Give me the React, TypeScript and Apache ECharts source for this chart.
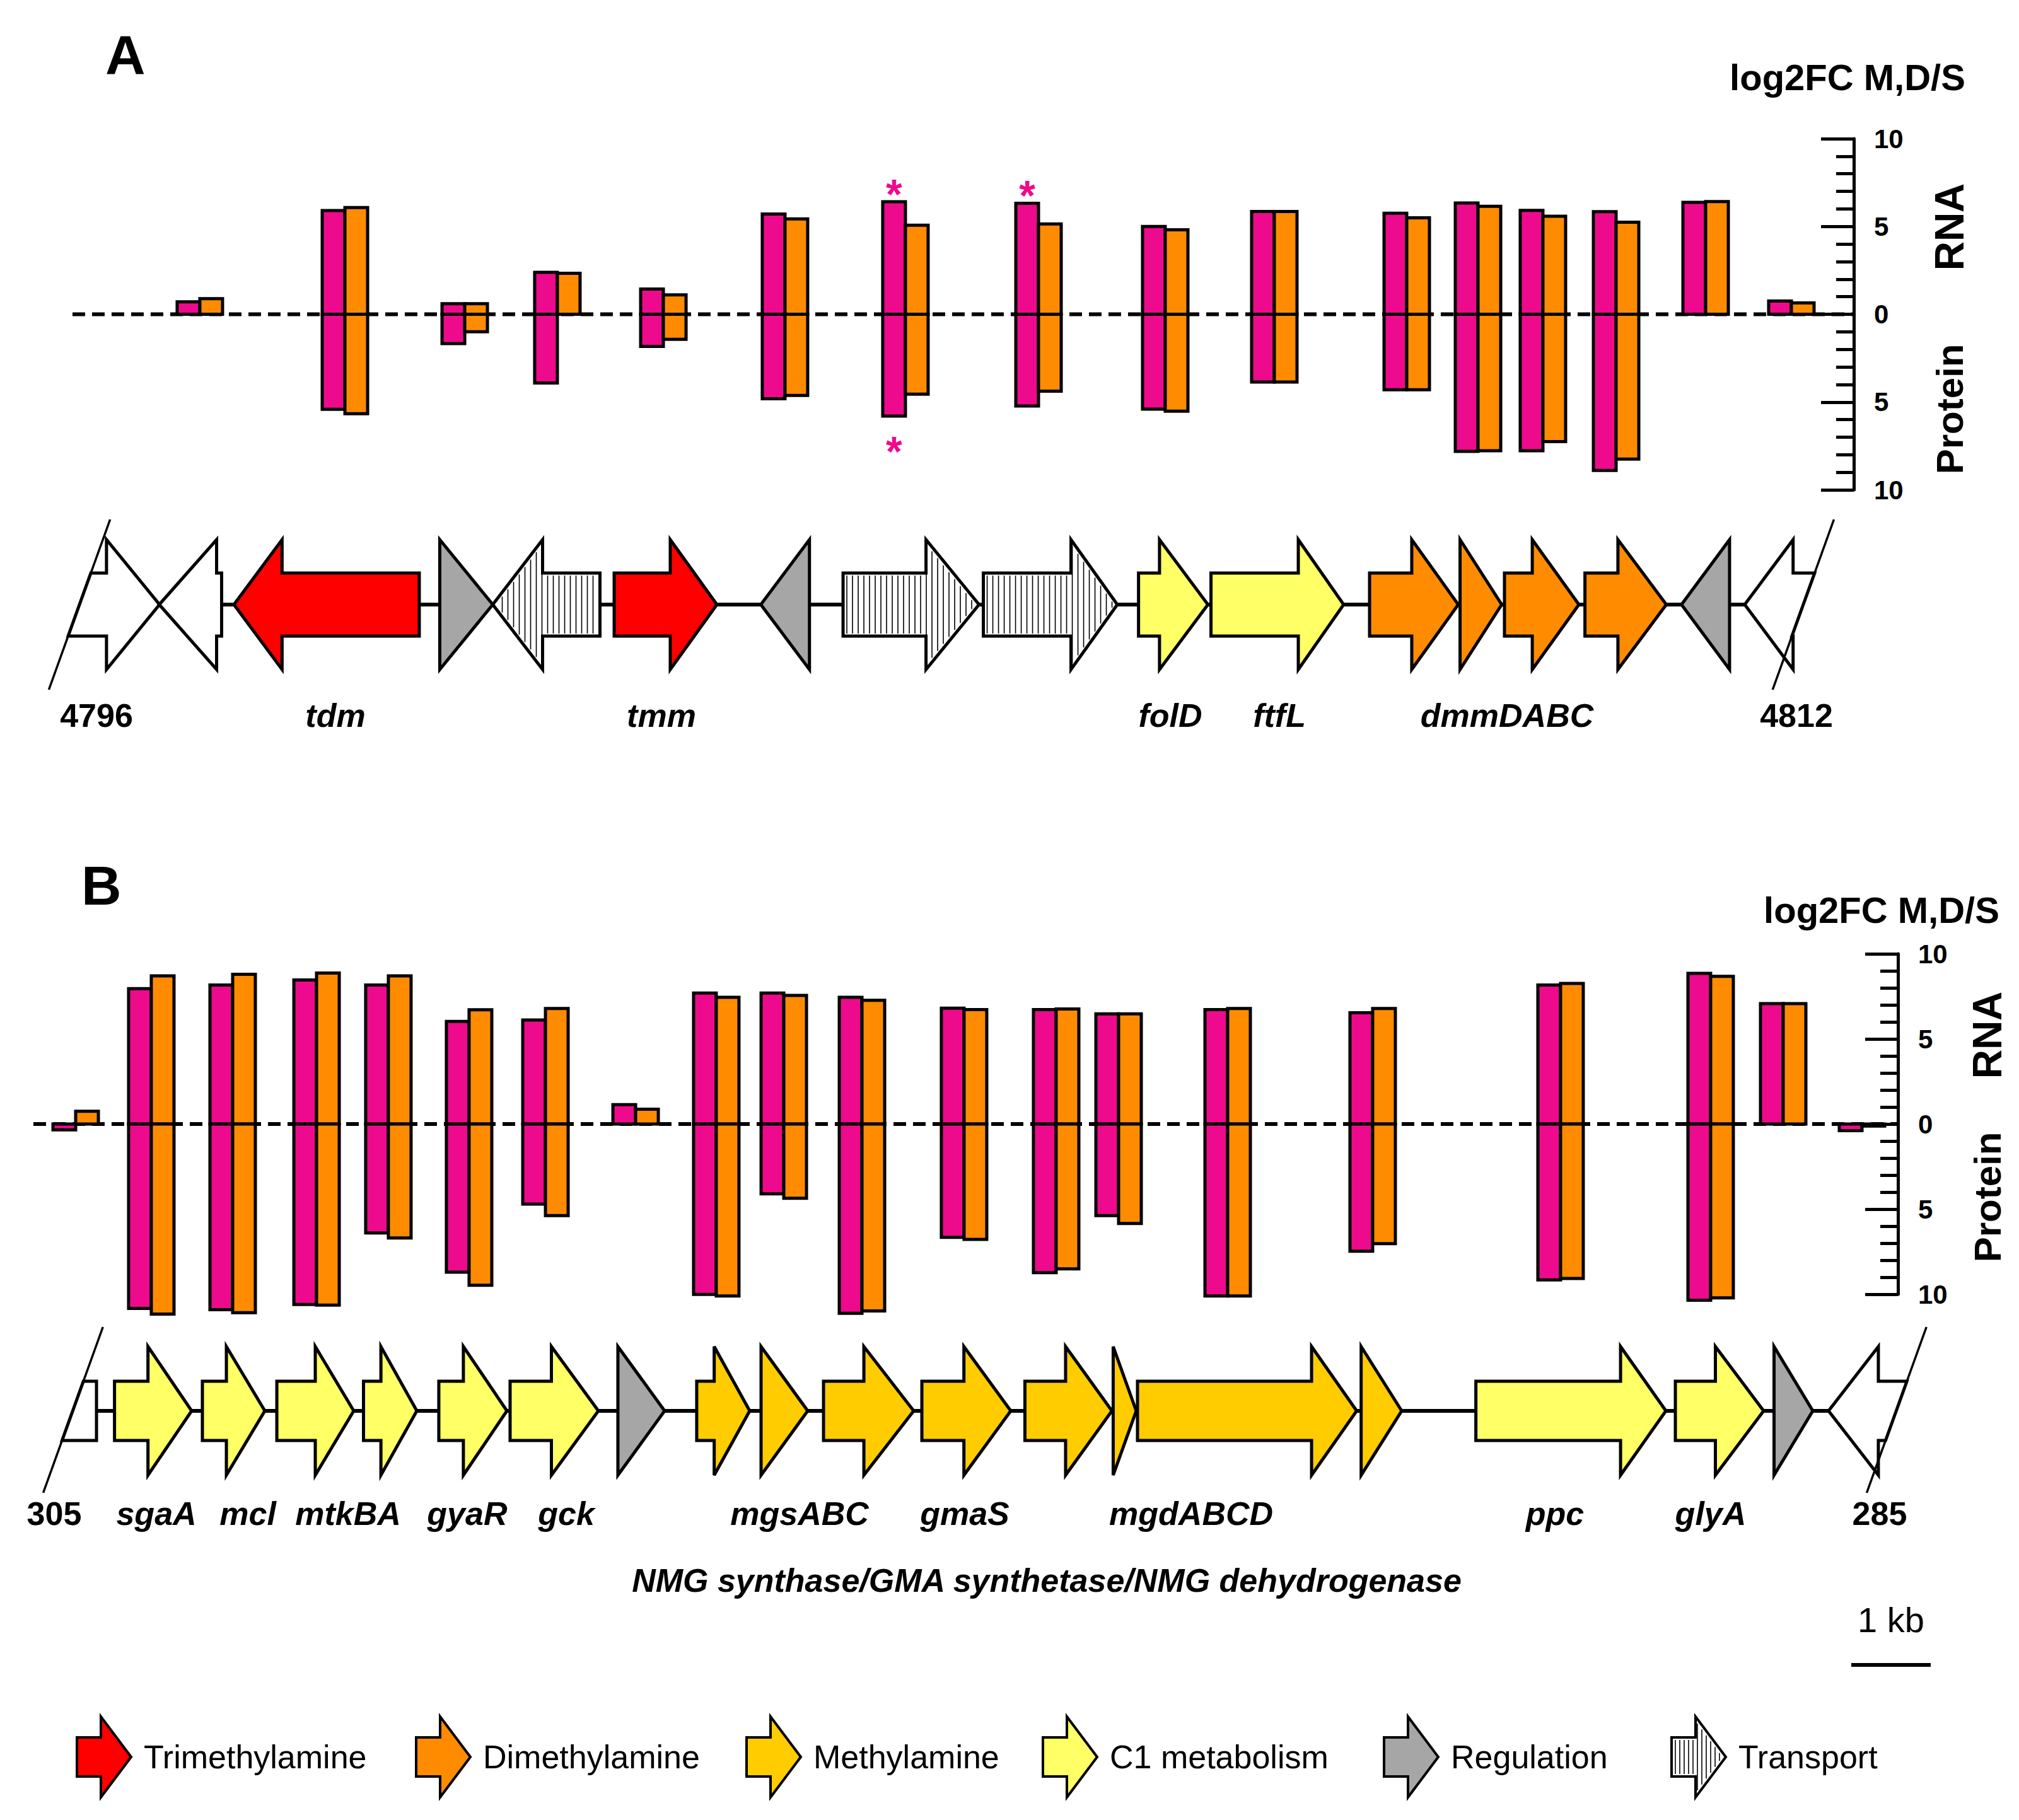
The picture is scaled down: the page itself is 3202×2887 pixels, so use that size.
import React, { useEffect, useRef } from "react";
import * as echarts from "echarts";

const FONT = "'Liberation Sans', Arial, Helvetica, sans-serif";
const PAGE_W = 3202;
const PAGE_H = 2887;
const KB_PX = 126; // 1 kb on the page
const GRID_LEFT = 40;

const MAGENTA = "#EE0A8C";
const ORANGE = "#FF8C00";

// categories
const OTHER = 0, TMA = 1, DMA = 2, MA = 3, C1 = 4, REG = 5, TRN = 6;
const CAT_COLOR = ["#ffffff", "#ff0000", "#ff8c00", "#ffcc00", "#ffff66", "#a6a6a6", "#ffffff"];

// ---------------- Panel A : bars (log2FC, M,D/S) ----------------
const barPosA = [2.198, 4.024, 5.532, 6.698, 8.032, 9.563, 11.079, 12.754, 14.349, 15.722, 17.389, 18.286, 19.103, 20.024, 21.151, 22.23];
const rnaMA = [0.71, 5.91, 0.6, 2.39, 1.44, 5.71, 6.41, 6.32, 5.0, 5.85, 5.75, 6.34, 5.92, 5.84, 6.37, 0.75];
const rnaOA = [0.89, 6.08, 0.6, 2.33, 1.1, 5.43, 5.07, 5.14, 4.81, 5.85, 5.49, 6.15, 5.58, 5.24, 6.42, 0.65];
const protMA = [0, 5.41, 1.67, 3.91, 1.83, 4.81, 5.8, 5.22, 5.4, 3.86, 4.3, 7.81, 7.77, 8.9, 0, 0];
const protOA = [0, 5.66, 1.0, 0, 1.43, 4.62, 4.55, 4.38, 5.52, 3.86, 4.3, 7.77, 7.25, 8.25, 0, 0];
// significance asterisks: [group index, +1 RNA / -1 protein]
const starsA = [[6, 1], [6, -1], [7, 1]];
const zeroStartA = 0.595;

// ---------------- Panel B : bars ----------------
const barPosB = [0.635, 1.587, 2.611, 3.667, 4.571, 5.587, 6.548, 7.683, 8.698, 9.548, 10.532, 11.817, 12.976, 13.762, 15.135, 16.96, 19.325, 21.214, 22.127, 23.119];
const rnaMB = [-0.34, 7.95, 8.17, 8.46, 8.17, 6.03, 6.11, 1.14, 7.69, 7.69, 7.44, 6.81, 6.72, 6.47, 6.72, 6.54, 8.17, 8.85, 7.07, -0.39];
const rnaOB = [0.75, 8.7, 8.8, 8.87, 8.7, 6.71, 6.79, 0.87, 7.44, 7.56, 7.27, 6.72, 6.76, 6.47, 6.79, 6.79, 8.26, 8.68, 7.07, -0.12];
const protMB = [0, 10.83, 10.91, 10.6, 6.4, 8.7, 4.7, 0, 10.01, 4.1, 11.12, 6.66, 8.73, 5.38, 10.1, 7.47, 9.16, 10.35, 0, 0];
const protOB = [0, 11.17, 11.08, 10.64, 6.69, 9.47, 5.38, 0, 10.1, 4.36, 10.98, 6.78, 8.51, 5.84, 10.1, 7.03, 9.07, 10.21, 0, 0];
const starsB: number[][] = [];
const zeroStartB = 0.103;

// ---------------- Gene maps (kb): [left, right, strand, head length, category] ----------------
const genesA = [
  [0.683, 1.69, 1, 0.667, OTHER],
  [1.687, 2.472, -1, 0.722, OTHER],
  [2.627, 4.96, -1, 0.606, TMA],
  [5.218, 5.885, 1, 0.667, REG],
  [5.885, 7.234, -1, 0.627, TRN],
  [7.413, 8.706, 1, 0.587, TMA],
  [9.259, 9.871, -1, 0.612, REG],
  [10.294, 12.005, 1, 0.667, TRN],
  [12.06, 13.746, 1, 0.583, TRN],
  [14.013, 14.886, 1, 0.609, C1],
  [14.925, 16.595, 1, 0.571, C1],
  [16.921, 18.037, 1, 0.585, DMA],
  [18.06, 18.584, 1, 0.524, DMA],
  [18.619, 19.556, 1, 0.587, DMA],
  [19.632, 20.656, 1, 0.609, DMA],
  [20.847, 21.452, -1, 0.605, REG],
  [21.643, 22.38, -1, 0.609, OTHER],
];
const breaksA = [0.683, 22.38];
const labelsA: [string, number][] = [["4796", 0.897], ["tdm", 3.905], ["tmm", 8.008], ["folD", 14.413], ["ftfL", 15.786], ["dmmDABC", 18.651], ["4812", 22.294]];

const genesB = [
  [0.598, 0.897, 1, 0, OTHER],
  [1.124, 2.095, 1, 0.55, C1],
  [2.23, 3.016, 1, 0.484, C1],
  [3.167, 4.135, 1, 0.484, C1],
  [4.258, 4.929, 1, 0.452, C1],
  [5.206, 6.063, 1, 0.548, C1],
  [6.103, 7.214, 1, 0.591, C1],
  [7.46, 8.048, 1, 0.588, REG],
  [8.452, 9.119, 1, 0.447, MA],
  [9.262, 9.849, 1, 0.587, MA],
  [10.048, 11.183, 1, 0.627, MA],
  [11.286, 12.405, 1, 0.59, MA],
  [12.583, 13.678, 1, 0.583, MA],
  [13.694, 13.984, 1, 0.29, MA],
  [14.0, 16.759, 1, 0.568, MA],
  [16.815, 17.325, 1, 0.51, MA],
  [18.259, 20.651, 1, 0.571, C1],
  [20.77, 21.881, 1, 0.607, C1],
  [22.012, 22.5, 1, 0.488, REG],
  [22.698, 23.55, -1, 0.627, OTHER],
];
const breaksB = [0.598, 23.55];
const labelsB: [string, number][] = [["305", 0.365], ["sgaA", 1.651], ["mcl", 2.802], ["mtkBA", 4.063], ["gyaR", 5.563], ["gck", 6.81], ["mgsABC", 9.746], ["gmaS", 11.825], ["mgdABCD", 14.675], ["ppc", 19.254], ["glyA", 21.214], ["285", 23.341]];
const scaleBarB = [22.984, 23.984];

const legendItems: [string, number][] = [["Trimethylamine", TMA], ["Dimethylamine", DMA], ["Methylamine", MA], ["C1 metabolism", C1], ["Regulation", REG], ["Transport", TRN]];
const LEGEND_X = [122, 660, 1184, 1654, 2195, 2651];

// ---------------- layout ----------------
const BAR_W = 36;
const SLOPE = -0.36;
const GRIDS = [
  { left: GRID_LEFT, top: 220, width: 2900, height: 557 },
  { left: GRID_LEFT, top: 809, width: 3150, height: 300 },
  { left: GRID_LEFT, top: 1513, width: 2970, height: 540 },
  { left: GRID_LEFT, top: 2088, width: 3150, height: 300 },
];

function arrowPoints(L: number, R: number, Hpx: number, strand: number, C: number, bh: number, hh: number, slashL: number | null, slashR: number | null) {
  const sx = (s: number, y: number) => s + (y - C) * SLOPE;
  const lt = slashL != null ? sx(slashL, C - bh) : L;
  const lb = slashL != null ? sx(slashL, C + bh) : L;
  const rt = slashR != null ? sx(slashR, C - bh) : R;
  const rb = slashR != null ? sx(slashR, C + bh) : R;
  if (Hpx <= 0) return [[lt, C - bh], [rt, C - bh], [rb, C + bh], [lb, C + bh]];
  const tri = Hpx >= R - L - 0.5;
  if (strand > 0) {
    if (tri) return [[L, C - hh], [R, C], [L, C + hh]];
    const HB = R - Hpx;
    return [[lt, C - bh], [HB, C - bh], [HB, C - hh], [R, C], [HB, C + hh], [HB, C + bh], [lb, C + bh]];
  }
  if (tri) return [[R, C - hh], [L, C], [R, C + hh]];
  const HB = L + Hpx;
  return [[rt, C - bh], [HB, C - bh], [HB, C - hh], [L, C], [HB, C + hh], [HB, C + bh], [rb, C + bh]];
}

function stripeLines(L: number, R: number, Hpx: number, strand: number, C: number, bh: number, hh: number, step: number) {
  const out: any[] = [];
  for (let x = L + 6; x < R - 6; x += step) {
    let h;
    if (strand > 0) {
      const HB = R - Hpx;
      h = x < HB ? bh - 4 : (hh * (R - x)) / Hpx - 7;
    } else {
      const HB = L + Hpx;
      h = x > HB ? bh - 4 : (hh * (x - L)) / Hpx - 7;
    }
    if (h > 2) out.push({ type: "line", shape: { x1: x, y1: C - h, x2: x, y2: C + h }, style: { stroke: "#000", lineWidth: 1.6 } });
  }
  return out;
}

function barSeries(gi: number, pos: number[], rm: number[], ro: number[], pm: number[], po: number[]) {
  return {
    type: "custom",
    xAxisIndex: gi,
    yAxisIndex: gi,
    clip: false,
    z: 3,
    data: pos.map((p) => [p, 0]),
    renderItem: (params: any, api: any) => {
      const i = params.dataIndex;
      const base = api.coord([pos[i], 0]);
      const vals = [rm[i], ro[i], -pm[i], -po[i]];
      const children: any[] = [];
      vals.forEach((v, k) => {
        if (!v) return;
        const p = api.coord([pos[i], v]);
        const isM = k % 2 === 0;
        children.push({
          type: "rect",
          shape: { x: isM ? base[0] - BAR_W : base[0], y: Math.min(p[1], base[1]), width: BAR_W, height: Math.abs(p[1] - base[1]) },
          style: { fill: isM ? MAGENTA : ORANGE, stroke: "#000", lineWidth: 5 },
        });
      });
      return { type: "group", children };
    },
  };
}

function starSeries(gi: number, stars: number[][], pos: number[], rm: number[], pm: number[]) {
  return {
    type: "custom",
    xAxisIndex: gi,
    yAxisIndex: gi,
    clip: false,
    z: 4,
    data: stars.map((s) => [pos[s[0]], s[1] > 0 ? rm[s[0]] : -pm[s[0]]]),
    renderItem: (params: any, api: any) => {
      const s = stars[params.dataIndex];
      const p = api.coord([api.value(0), api.value(1)]);
      const y = s[1] > 0 ? p[1] - 12 : p[1] + 56;
      return {
        type: "text",
        x: p[0] - BAR_W / 2,
        y,
        style: { text: "*", fontSize: 66, fontWeight: "bold", fontFamily: FONT, fill: MAGENTA, align: "center", verticalAlign: "middle" },
      };
    },
  };
}

function zeroLine(gi: number, start: number) {
  return {
    type: "line",
    xAxisIndex: gi,
    yAxisIndex: gi,
    symbol: "none",
    silent: true,
    z: 2,
    data: [[start, 0], [GRIDS[gi].width / KB_PX, 0]],
    lineStyle: { color: "#000", width: 6, type: [20, 11] },
  };
}

// the 0 tick runs a little past the axis line
function zeroTick(gi: number) {
  const end = GRIDS[gi].width / KB_PX;
  return {
    type: "line",
    xAxisIndex: gi,
    yAxisIndex: gi,
    symbol: "none",
    silent: true,
    clip: false,
    z: 2,
    data: [[end, 0], [end + 20 / KB_PX, 0]],
    lineStyle: { color: "#000", width: 5 },
  };
}

function geneSeries(gi: number, genes: number[][], breaks: number[], bh: number, hh: number) {
  return {
    type: "custom",
    xAxisIndex: gi,
    yAxisIndex: gi,
    clip: false,
    z: 3,
    data: genes.map((g) => [g[0], 0]),
    renderItem: (params: any, api: any) => {
      const [l, r, strand, head, cat] = genes[params.dataIndex];
      const a = api.coord([l, 0]);
      const b = api.coord([r, 0]);
      const C = a[1];
      const Hpx = head > 0 ? api.size([head, 0])[0] : 0;
      const sL = api.coord([breaks[0], 0])[0];
      const sR = api.coord([breaks[1], 0])[0];
      const clipL = Math.abs(l - breaks[0]) < 1e-6 ? sL : null;
      const clipR = Math.abs(r - breaks[1]) < 1e-6 ? sR : null;
      const pts = arrowPoints(a[0], b[0], Hpx, strand, C, bh, hh, clipL, clipR);
      const children: any[] = [
        { type: "polygon", shape: { points: pts }, style: { fill: CAT_COLOR[cat], stroke: "#000", lineWidth: 5, lineJoin: "miter" } },
      ];
      if (cat === TRN) children.push(...stripeLines(a[0], b[0], Hpx, strand, C, bh, hh, 9));
      return { type: "group", children };
    },
  };
}

function backboneSeries(gi: number, breaks: number[]) {
  return {
    type: "custom",
    xAxisIndex: gi,
    yAxisIndex: gi,
    clip: false,
    z: 2,
    data: [[breaks[0], 0]],
    renderItem: (params: any, api: any) => {
      const a = api.coord([breaks[0], 0]);
      const b = api.coord([breaks[1], 0]);
      return { type: "line", shape: { x1: a[0], y1: a[1], x2: b[0], y2: b[1] }, style: { stroke: "#000", lineWidth: 6 } };
    },
  };
}

function slashSeries(gi: number, breaks: number[], up: number, down: number) {
  return {
    type: "custom",
    xAxisIndex: gi,
    yAxisIndex: gi,
    clip: false,
    z: 5,
    data: breaks.map((b) => [b, 0]),
    renderItem: (params: any, api: any) => {
      const p = api.coord([api.value(0), 0]);
      const C = p[1];
      return {
        type: "line",
        shape: { x1: p[0] - up * SLOPE, y1: C - up, x2: p[0] + down * SLOPE, y2: C + down },
        style: { stroke: "#000", lineWidth: 3.5 },
      };
    },
  };
}

function labelSeries(gi: number, labels: [string, number][], offset: number) {
  return {
    type: "custom",
    xAxisIndex: gi,
    yAxisIndex: gi,
    clip: false,
    z: 5,
    data: labels.map((l) => [l[1], 0]),
    renderItem: (params: any, api: any) => {
      const [txt, x] = labels[params.dataIndex];
      const p = api.coord([x, 0]);
      const numeric = /^\d+$/.test(txt);
      return {
        type: "text",
        x: p[0],
        y: p[1] + offset,
        style: {
          text: txt,
          fontSize: 52,
          fontWeight: "bold",
          fontStyle: numeric ? "normal" : "italic",
          fontFamily: FONT,
          fill: "#000",
          align: "center",
          verticalAlign: "middle",
        },
      };
    },
  };
}

function scaleBarSeries(gi: number, bar: number[]) {
  return {
    type: "custom",
    xAxisIndex: gi,
    yAxisIndex: gi,
    clip: false,
    z: 5,
    data: [[bar[0], 0]],
    renderItem: (params: any, api: any) => {
      const a = api.coord([bar[0], 0]);
      const b = api.coord([bar[1], 0]);
      return {
        type: "group",
        children: [
          { type: "line", shape: { x1: a[0], y1: a[1] + 403, x2: b[0], y2: b[1] + 403 }, style: { stroke: "#000", lineWidth: 6 } },
          {
            type: "text",
            x: (a[0] + b[0]) / 2,
            y: a[1] + 331,
            style: { text: "1 kb", fontSize: 56, fontFamily: FONT, fill: "#000", align: "center", verticalAlign: "middle" },
          },
        ],
      };
    },
  };
}

function valueAxis(gi: number) {
  return {
    gridIndex: gi,
    type: "value",
    min: -10,
    max: 10,
    interval: 5,
    position: "right",
    axisLine: { show: true, onZero: false, lineStyle: { color: "#000", width: 5 } },
    axisTick: { show: true, inside: true, length: 52, lineStyle: { color: "#000", width: 5 } },
    minorTick: { show: true, splitNumber: 5, length: 28, lineStyle: { color: "#000", width: 5 } },
    splitLine: { show: false },
    axisLabel: {
      formatter: (v: number) => String(Math.abs(v)),
      fontSize: 42,
      fontWeight: "bold",
      fontFamily: FONT,
      color: "#000",
      margin: 32,
    },
  };
}

function hiddenAxis(gi: number) {
  return { gridIndex: gi, type: "value", min: -1, max: 1, show: false, splitLine: { show: false } };
}

function txt(x: number, y: number, text: string, size: number, opts: any = {}) {
  return {
    type: "text",
    x,
    y,
    rotation: opts.rotation || 0,
    style: {
      text,
      fontSize: size,
      fontWeight: opts.weight || "normal",
      fontStyle: opts.style || "normal",
      fontFamily: FONT,
      fill: "#000",
      align: opts.align || "center",
      verticalAlign: "middle",
    },
  };
}

function buildOption() {
  const legendEls: any[] = [];
  legendItems.forEach(([name, cat], i) => {
    const x0 = LEGEND_X[i];
    const C = 2787;
    const pts = arrowPoints(x0, x0 + 86, 48, 1, C, 31, 64, null, null);
    legendEls.push({ type: "polygon", shape: { points: pts }, style: { fill: CAT_COLOR[cat], stroke: "#000", lineWidth: 4 } });
    if (cat === TRN) legendEls.push(...stripeLines(x0, x0 + 86, 48, 1, C, 31, 64, 7));
    legendEls.push(txt(x0 + 106, C, name, 52, { align: "left" }));
  });

  return {
    animation: false,
    backgroundColor: "#ffffff",
    grid: GRIDS.map((g) => ({ ...g, containLabel: false })),
    xAxis: GRIDS.map((g, i) => ({ gridIndex: i, type: "value", min: 0, max: g.width / KB_PX, show: false, splitLine: { show: false } })),
    yAxis: [valueAxis(0), hiddenAxis(1), valueAxis(2), hiddenAxis(3)],
    series: [
      zeroLine(0, zeroStartA),
      zeroTick(0),
      barSeries(0, barPosA, rnaMA, rnaOA, protMA, protOA),
      starSeries(0, starsA, barPosA, rnaMA, protMA),
      backboneSeries(1, breaksA),
      geneSeries(1, genesA, breaksA, 50, 103),
      slashSeries(1, breaksA, 135, 135),
      labelSeries(1, labelsA, 176),
      zeroLine(2, zeroStartB),
      zeroTick(2),
      barSeries(2, barPosB, rnaMB, rnaOB, protMB, protOB),
      starSeries(2, starsB, barPosB, rnaMB, protMB),
      backboneSeries(3, breaksB),
      geneSeries(3, genesB, breaksB, 47, 102),
      slashSeries(3, breaksB, 133, 130),
      labelSeries(3, labelsB, 163),
      scaleBarSeries(3, scaleBarB),
    ],
    graphic: [
      txt(167, 86, "A", 88, { weight: "bold", align: "left" }),
      txt(129, 1404, "B", 88, { weight: "bold", align: "left" }),
      txt(2930, 122, "log2FC M,D/S", 58, { weight: "bold" }),
      txt(2984, 1443, "log2FC M,D/S", 58, { weight: "bold" }),
      txt(3092, 360, "RNA", 64, { weight: "bold", rotation: Math.PI / 2 }),
      txt(3092, 649, "Protein", 60, { weight: "bold", rotation: Math.PI / 2 }),
      txt(3152, 1642, "RNA", 64, { weight: "bold", rotation: Math.PI / 2 }),
      txt(3152, 1899, "Protein", 60, { weight: "bold", rotation: Math.PI / 2 }),
      txt(1660, 2507, "NMG synthase/GMA synthetase/NMG dehydrogenase", 52, { weight: "bold", style: "italic" }),
      ...legendEls,
    ],
  };
}

export default function App() {
  const ref = useRef<HTMLDivElement>(null);
  useEffect(() => {
    const chart = echarts.init(ref.current as HTMLDivElement, null, { renderer: "svg" });
    chart.setOption(buildOption() as any);
    return () => chart.dispose();
  }, []);
  return (
    <div
      ref={ref}
      style={{ position: "absolute", left: 0, top: 0, width: PAGE_W, height: PAGE_H, background: "#fff" }}
    />
  );
}
